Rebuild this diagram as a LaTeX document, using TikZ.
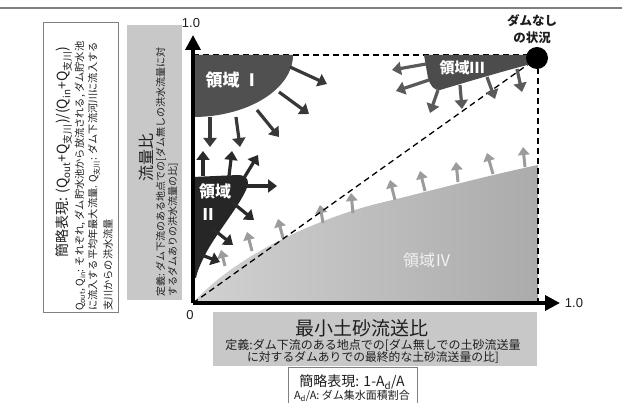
\documentclass[tikz,border=0pt]{standalone}
\usepackage{fontspec}
\setmainfont{Noto Sans CJK JP}
\newfontfamily\lat{Liberation Sans}
\usetikzlibrary{arrows.meta}
\definecolor{regI}{HTML}{505050}
\definecolor{regII}{HTML}{262626}
\definecolor{regIII}{HTML}{4C4C4C}
\definecolor{arrI}{HTML}{383838}
\definecolor{arrII}{HTML}{2A2A2A}
\definecolor{arrIII}{HTML}{5A5A5A}
\definecolor{arrIV}{HTML}{9C9C9C}
\definecolor{boxgray}{HTML}{C8C8C8}
\definecolor{framegray}{HTML}{808080}
\definecolor{txt}{HTML}{1E1E1E}
\newcommand\myfs[1]{\fontsize{#1}{#1}\selectfont}
\begin{document}
\begin{tikzpicture}[x=1pt,y=-1pt,
  every node/.style={inner sep=0pt,outer sep=0pt,text=txt},
  darkarr/.style={draw=arrI,line width=3.2pt,-{Triangle[length=9pt,width=13pt]}},
  blackarr/.style={draw=arrII,line width=3.2pt,-{Triangle[length=9pt,width=13pt]}},
  grayarr/.style={draw=arrIII,line width=3.2pt,-{Triangle[length=9pt,width=13pt]}},
  lightarr/.style={draw=arrIV,line width=3pt,-{Triangle[length=8pt,width=11.5pt]}},
  dashline/.style={draw=black,line width=1.3pt,dash pattern=on 6pt off 4pt},
  axisline/.style={draw=black,line width=3.5pt,-{Triangle[length=15pt,width=15pt]}},
  rot/.style={rotate=90},
  reglabel/.style={text=white,font=\bfseries}]
\useasboundingbox (0,0) rectangle (622,403);
\clip (0,0) rectangle (622,403);
\fill[white] (0,0) rectangle (622,403);
% top frame line
\draw[framegray,line width=1.5pt] (0,8) -- (622,8);

% ---- left white box ----
\draw[framegray,line width=1pt,fill=white] (43,23) rectangle (118,313);
\node[rot] (l1) at (64,152) {\myfs{14}簡略表現: (Q\textsubscript{out}+Q\textsubscript{支川})/(Q\textsubscript{in}+Q\textsubscript{支川})};
\node[rot,anchor=west] (l2) at (80,311) {\myfs{10.2}Q\textsubscript{out}, Q\textsubscript{in}: それぞれ, ダム貯水池から放流される, ダム貯水池};
\node[rot,anchor=west] (l3) at (94,311) {\myfs{10.2}に流入する平均年最大流量. Q\textsubscript{支川}: ダム下流河川に流入する};
\node[rot,anchor=west] (l4) at (108,311) {\myfs{10.2}支川からの洪水流量};

% ---- gray box (flow ratio) ----
\fill[boxgray] (127,25) rectangle (182,300);
\node[rot] (g1) at (146,158) {\myfs{16}流量比};
\node[rot,anchor=west] (g2) at (161,297) {\myfs{10}定義: ダム下流のある地点での[ダム無しの洪水流量に対};
\node[rot,anchor=west] (g3) at (173,297) {\myfs{10}するダムありの洪水流量の比]};

% ---- bottom gray box ----
\fill[boxgray] (213,312) rectangle (537,366);
\node (b1) at (362,328) {\myfs{19}最小土砂流送比};
\node (b2) at (373,345) {\myfs{12}定義:ダム下流のある地点での[ダム無しでの土砂流送量};
\node (b3) at (373,358) {\myfs{11.8}に対するダムありでの最終的な土砂流送量の比]};

% ---- bottom white box ----
\draw[framegray,line width=1pt,fill=white] (288,368) rectangle (417,410);
\node (w1) at (352,382) {\myfs{14}簡略表現: 1-A\textsubscript{d}/A};
\node (w2) at (352,396) {\myfs{11}A\textsubscript{d}/A: ダム集水面積割合};

% ---- region IV ----
\shade[left color=gray!36,right color=gray!66]
  (193,303) .. controls (240,250) and (330,215) .. (380,203)
  .. controls (430,191) and (490,175) .. (538,165) -- (538,303) -- cycle;
\node[text=gray!10] (r4) at (427,260) {\myfs{16}領域Ⅳ};
\foreach \sx/\sy/\ex/\ey in {225/266/221/250, 252/251/247/232, 283/238/278/219,
  323/223/320/205, 353/213/351/193, 395/200/390/180, 425/191/420/171,
  458/182/456/162, 493/174/487/153, 525/167/523/147}
  \draw[lightarr] (\sx,\sy) -- (\ex,\ey);

% ---- dashed lines ----
\draw[dashline] (193,55) -- (537,55);
\draw[dashline] (538,58) -- (538,303);
\draw[dashline] (193,303) -- (537,58);

% ---- region I ----
\fill[regI] (193,55) -- (293,55) .. controls (293,89) and (248,117) .. (193,117) -- cycle;
\node[reglabel] (r1) at (233,80) {\myfs{17}領域 Ⅰ};
\foreach \sx/\sy/\ex/\ey in {290/67/327/84, 279/92/309/114, 257/110/279/137,
  236/117/240/147, 210/117/210/147}
  \draw[darkarr] (\sx,\sy) -- (\ex,\ey);

% ---- region II ----
\fill[regII] (193,177) -- (238,175) .. controls (248,175) and (250,182) .. (246,190)
  .. controls (238,208) and (215,235) .. (205,255)
  .. controls (200,265) and (197,272) .. (196,278) -- (193,278) -- cycle;
\node[reglabel] (r2a) at (215,191) {\myfs{16}領域};
\node[reglabel] (r2b) at (208,215) {\myfs{16}Ⅱ};
\foreach \sx/\sy/\ex/\ey in {203/176/203/151, 229/176/232/151, 244/178/258/155,
  246/186/277/186, 233/203/254/220, 213/229/233/245, 199/254/220/262}
  \draw[blackarr] (\sx,\sy) -- (\ex,\ey);

% ---- region III ----
\fill[regIII] (424,55) -- (530,55) -- (531,64) .. controls (500,72) and (460,84) .. (440,90)
  .. controls (434,91) and (430,85) .. (428,78) -- cycle;
\node[reglabel] (r3) at (462,68) {\myfs{15}領域Ⅲ};
\foreach \sx/\sy/\ex/\ey in {426/64/392/70, 429/80/396/91, 438/90/430/113,
  460/85/462/109, 487/77/495/99, 517/69/522/92}
  \draw[grayarr] (\sx,\sy) -- (\ex,\ey);

% ---- no-dam point ----
\fill[black] (537,58) circle[radius=11pt];
\node[font=\bfseries] (nd1) at (532,21) {\myfs{12.5}ダムなし};
\node[font=\bfseries] (nd2) at (532,38) {\myfs{12.5}の状況};

% ---- axes ----
\coordinate (o) at (193,303);
\coordinate (ytip) at (193,35);
\coordinate (xtip) at (560,303);
\draw[axisline] (o) -- (ytip);
\draw[axisline] (o) -- (xtip);
\node (y1) at (191,23) {\lat\myfs{13}1.0};
\node (x1) at (574,303) {\lat\myfs{13}1.0};
\node (z0) at (190,315) {\lat\myfs{13}0};
\end{tikzpicture}
\end{document}
